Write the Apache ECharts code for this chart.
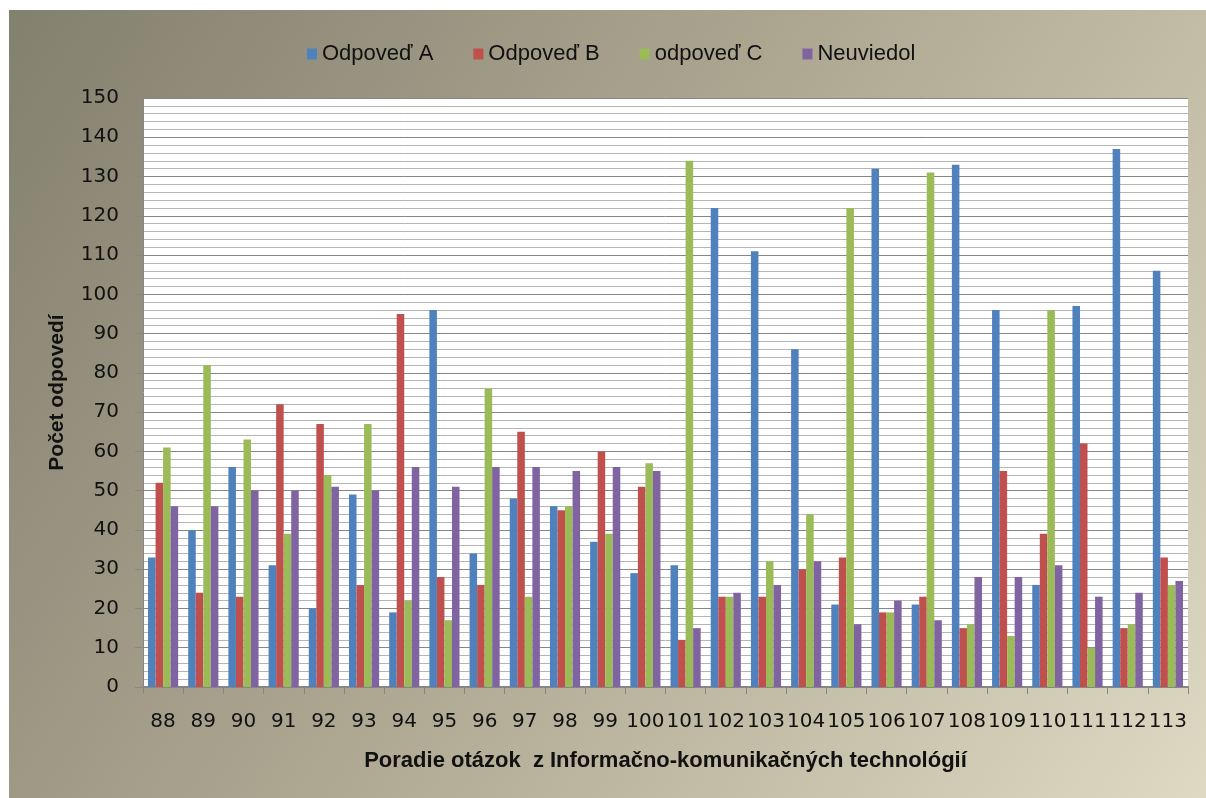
<!DOCTYPE html>
<html>
<head>
<meta charset="utf-8">
<script src="https://cdn.jsdelivr.net/npm/echarts@6/dist/echarts.min.js"></script>
<style>
  html, body { margin: 0; padding: 0; background: #fff; }
  #chart { width: 1206px; height: 798px; }
</style>
</head>
<body>
<div id="chart"></div>
<script>
// poradie otázok
const categories = ['88', '89', '90', '91', '92', '93', '94', '95', '96', '97', '98', '99', '100',
  '101', '102', '103', '104', '105', '106', '107', '108', '109', '110', '111', '112', '113']
const seriesNames = ['Odpoveď A', 'Odpoveď B', 'odpoveď C', 'Neuviedol']
const odpovedA = [33, 40, 56, 31, 20, 49, 19, 96, 34, 48, 46, 37, 29, 31, 122, 111, 86, 21, 132, 21, 133, 96, 26, 97, 137, 106]
const odpovedB = [52, 24, 23, 72, 67, 26, 95, 28, 26, 65, 45, 60, 51, 12, 23, 23, 30, 33, 19, 23, 15, 55, 39, 62, 15, 33]
const odpovedC = [61, 82, 63, 39, 54, 67, 22, 17, 76, 23, 46, 39, 57, 134, 23, 32, 44, 122, 19, 131, 16, 13, 96, 10, 16, 26]
const neuviedol = [46, 46, 50, 50, 51, 50, 56, 51, 56, 56, 55, 56, 55, 15, 24, 26, 32, 16, 22, 17, 28, 28, 31, 23, 24, 27]
const colors = ['#4f81bd', '#c0504d', '#9bbb59', '#8064a2']

const chart = echarts.init(document.getElementById('chart'))

const allData = [odpovedA, odpovedB, odpovedC, neuviedol]
const series = allData.map((d, i) => ({
  name: seriesNames[i],
  type: 'bar',
  data: d,
  barGap: 0,
  barCategoryGap: '25%',
  itemStyle: { color: colors[i] }
}))

const option = {
  animation: false,
  color: colors,
  graphic: [
    {
      type: 'rect',
      z: -10,
      silent: true,
      shape: { x: 9, y: 10, width: 1197, height: 788 },
      style: {
        fill: new echarts.graphic.LinearGradient(0, 0, 1, 1, [
          { offset: 0, color: '#83806e' },
          { offset: 0.5, color: '#b0a994' },
          { offset: 1, color: '#ddd9c2' }
        ])
      }
    }
  ],
  legend: {
    top: 38,
    left: 302,
    icon: 'rect',
    itemWidth: 10,
    itemHeight: 11,
    itemGap: 40,
    textStyle: { fontFamily: 'Liberation Sans', fontSize: 22, color: '#111' },
    data: seriesNames
  },
  grid: {
    left: 143,
    right: 18,
    top: 98,
    bottom: 111,
    show: true,
    backgroundColor: '#ffffff',
    borderWidth: 0
  },
  xAxis: {
    type: 'category',
    data: categories,
    name: 'Poradie otázok  z Informačno-komunikačných technológií',
    nameLocation: 'middle',
    nameGap: 63,
    nameTextStyle: { fontFamily: 'Liberation Sans', fontWeight: 'bold', fontSize: 22, color: '#111' },
    axisLine: { lineStyle: { color: '#868686', width: 2 } },
    axisTick: { show: true, length: 7, lineStyle: { color: '#868686' } },
    axisLabel: {
      interval: 0,
      margin: 25,
      fontFamily: 'DejaVu Sans',
      fontSize: 20,
      color: '#111'
    }
  },
  yAxis: {
    type: 'value',
    min: 0,
    max: 150,
    interval: 10,
    name: 'Počet odpovedí',
    nameLocation: 'middle',
    nameGap: 75,
    nameRotate: 90,
    nameTextStyle: { fontFamily: 'Liberation Sans', fontWeight: 'bold', fontSize: 21, color: '#111' },
    axisLine: { show: true, lineStyle: { color: '#868686' } },
    axisTick: { show: true, length: 8, lineStyle: { color: '#868686' } },
    axisLabel: {
      margin: 24,
      fontFamily: 'DejaVu Sans',
      fontSize: 20,
      color: '#111'
    },
    splitLine: { show: true, lineStyle: { color: '#868686', width: 1 } },
    minorTick: { show: false, splitNumber: 5 },
    minorSplitLine: { show: true, lineStyle: { color: '#b5b5b5', width: 1 } }
  },
  series: series
}

chart.setOption(option)
</script>
</body>
</html>
